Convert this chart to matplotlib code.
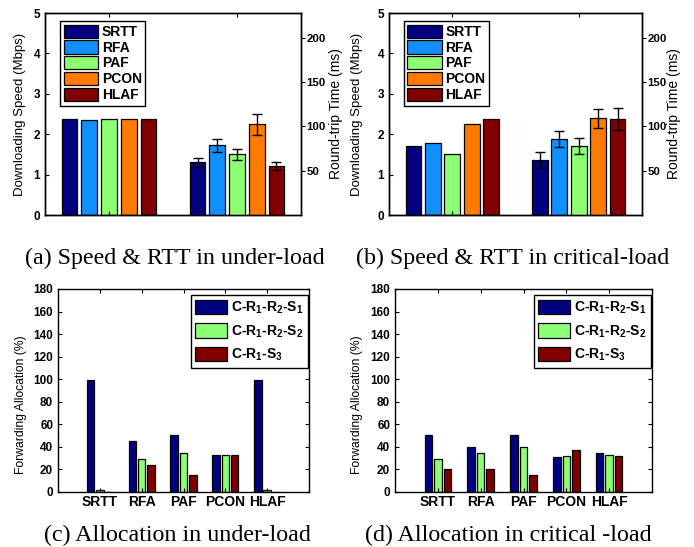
import numpy as np
import matplotlib
matplotlib.use("Agg")
import matplotlib.pyplot as plt

# =========================================================
# DATA
# =========================================================
methods = ["SRTT", "RFA", "PAF", "PCON", "HLAF"]
method_colors = ["#000080", "#1090FF", "#8CFF72", "#FF7A00", "#800000"]

# (a) under-load: speed (Mbps) and RTT (ms) with error
speed_under = [2.38, 2.36, 2.38, 2.38, 2.38]
rtt_under = [59.4, 78.6, 68.8, 102.3, 55.3]
rtt_err_under = [4.9, 7.3, 6.2, 11.8, 4.7]

# (b) critical-load
speed_crit = [1.71, 1.77, 1.52, 2.26, 2.37]
rtt_crit = [62.0, 85.7, 78.2, 109.0, 108.3]
rtt_err_crit = [8.8, 8.8, 8.8, 11.0, 12.2]

# (c)/(d) forwarding allocation (%)
paths = ["C-R$_1$-R$_2$-S$_1$", "C-R$_1$-R$_2$-S$_2$", "C-R$_1$-S$_3$"]
path_colors = ["#000080", "#8CFF72", "#800000"]
alloc_under = [
    [99.2, 45.0, 50.3, 32.6, 99.2],
    [1.5, 29.6, 34.6, 32.6, 1.5],
    [0.0, 24.3, 15.4, 32.6, 0.0],
]
alloc_crit = [
    [50.3, 40.0, 50.3, 31.0, 35.0],
    [29.6, 35.0, 40.0, 32.0, 32.6],
    [20.4, 20.4, 15.4, 37.0, 32.0],
]

captions = [
    "(a) Speed & RTT in under-load",
    "(b) Speed & RTT in critical-load",
    "(c) Allocation in under-load",
    "(d) Allocation in critical -load",
]

# =========================================================
# STYLE
# =========================================================
plt.rcParams["font.family"] = ["Liberation Sans", "DejaVu Sans"]
plt.rcParams["font.weight"] = "bold"
plt.rcParams["mathtext.fontset"] = "custom"
plt.rcParams["mathtext.rm"] = "Liberation Sans:bold"
plt.rcParams["mathtext.bf"] = "Liberation Sans:bold"
plt.rcParams["mathtext.default"] = "rm"
plt.rcParams["axes.linewidth"] = 1.0

W, H = 694, 547
fig = plt.figure(figsize=(W / 100, H / 100), dpi=100)


def px_axes(l, t, r, b):
    return fig.add_axes([l / W, 1 - b / H, (r - l) / W, (b - t) / H])


def speed_panel(box, speed, rtt, rtt_err, ylab_x, rlab_x):
    ax = px_axes(*box)
    ax2 = ax.twinx()
    step = 0.154
    width = 0.123
    offs = (np.arange(len(methods)) - 2) * step
    handles = []
    for i, name in enumerate(methods):
        h = ax.bar(1 + offs[i], speed[i], width, color=method_colors[i],
                   edgecolor="black", linewidth=0.9, label=name)
        handles.append(h)
        ax2.bar(2 + offs[i], rtt[i], width, yerr=rtt_err[i],
                color=method_colors[i], edgecolor="black", linewidth=0.9,
                capsize=3.5, error_kw=dict(elinewidth=1.0, capthick=1.0))
    ax.set_xlim(0.5, 2.5)
    ax.set_xticks([1, 2])
    ax.set_xticklabels([])
    ax.tick_params(axis="x", direction="in", top=True, length=3)
    ax.set_ylim(0, 5)
    ax.set_yticks(range(6))
    ax.tick_params(axis="y", direction="in", length=3, labelsize=8.5)
    ax.set_ylabel("Downloading Speed (Mbps)", fontsize=9.5)
    ax.yaxis.set_label_coords(ylab_x, 0.5)

    ax2.set_ylim(0, 228)
    ax2.set_yticks([50, 100, 150, 200])
    ax2.tick_params(axis="y", direction="out", length=3, pad=1,
                    labelsize=8.2)
    ax2.set_ylabel("Round-trip Time (ms)", fontsize=10)
    ax2.yaxis.set_label_coords(rlab_x, 0.5)

    leg = ax2.legend(handles=handles, loc="upper left",
                     bbox_to_anchor=(0.059, 0.96), fontsize=10,
                     frameon=True, fancybox=False, framealpha=1,
                     edgecolor="black", borderpad=0.25, borderaxespad=0,
                     handlelength=2.5, handleheight=1.1, labelspacing=0.1,
                     handletextpad=0.25)
    leg.get_frame().set_linewidth(1.0)


def alloc_panel(box, alloc, ylab_x):
    ax = px_axes(*box)
    step = 0.222
    width = 0.178
    x = np.arange(1, len(methods) + 1)
    for j, name in enumerate(paths):
        ax.bar(x + (j - 1) * step, alloc[j], width, color=path_colors[j],
               edgecolor="black", linewidth=0.9, label=name)
    ax.set_xlim(0, 6)
    ax.set_xticks(x)
    ax.set_xticklabels(methods, fontsize=10)
    ax.set_ylim(0, 180)
    ax.set_yticks(range(0, 181, 20))
    ax.tick_params(axis="both", direction="in", top=True, right=True,
                   length=3)
    ax.tick_params(axis="y", labelsize=8.5)
    ax.tick_params(axis="x", pad=2)
    ax.set_ylabel("Forwarding Allocation (%)", fontsize=8.7)
    ax.yaxis.set_label_coords(ylab_x, 0.431)
    leg = ax.legend(loc="upper right", bbox_to_anchor=(0.996, 0.97),
                    fontsize=10, frameon=True, fancybox=False, framealpha=1,
                    edgecolor="black", borderpad=0.35, borderaxespad=0,
                    handlelength=2.3, handleheight=1.2, labelspacing=0.5,
                    handletextpad=0.25)
    leg.get_frame().set_linewidth(1.0)


speed_panel((45, 13, 301, 215), speed_under, rtt_under, rtt_err_under,
            -0.074, 1.109)
speed_panel((389, 13, 642, 215), speed_crit, rtt_crit, rtt_err_crit,
            -0.103, 1.099)
alloc_panel((58, 289, 309, 492), alloc_under, -0.123)
alloc_panel((395, 289, 652, 492), alloc_crit, -0.126)

cap_pos = [(175, 258), (513, 258), (177, 535), (508, 535)]
for (cx, cy), txt in zip(cap_pos, captions):
    fig.text(cx / W, 1 - cy / H, txt, ha="center", va="center",
             fontsize=17.3, fontweight="normal",
             family=["Liberation Serif", "DejaVu Serif"])

fig.savefig("out.png", dpi=100)
